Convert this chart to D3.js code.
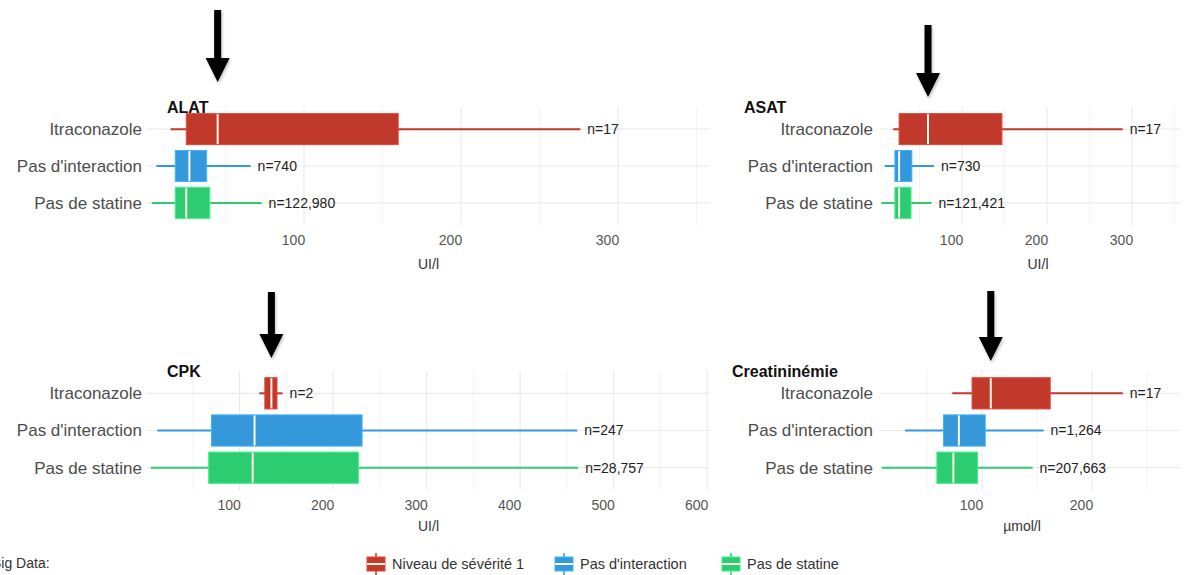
<!DOCTYPE html>
<html><head><meta charset="utf-8">
<script src="https://cdn.jsdelivr.net/npm/d3@7"></script>
<style>
html,body{margin:0;padding:0;background:#fff;}
svg{display:block;font-family:"Liberation Sans",Arial,Helvetica,sans-serif;}
</style></head>
<body><svg id="chart" width="1188" height="575"></svg>
<script>
// ---- data ----
const categories = ["Itraconazole", "Pas d'interaction", "Pas de statine"];
const panelTitles = ["ALAT", "ASAT", "CPK", "Creatininémie"];
const panelUnits = ["UI/l", "UI/l", "UI/l", "µmol/l"];
// [whisker low, Q1, median, Q3, whisker high] per category
const alatStats = [[15, 25, 45, 160, 276], [6, 18, 27, 38, 66], [3, 18, 25, 40, 73]];
const asatStats = [[19, 26, 60, 147, 289], [9, 21, 26, 41, 67], [5, 21, 26, 40, 64]];
const cpkStats = [[121, 127, 134, 140, 146], [12, 70, 116, 231, 461], [5, 67, 114, 227, 462]];
const creatStats = [[73, 91, 108, 162, 228], [30, 65, 79, 103, 156], [9, 59, 74, 96, 146]];
const alatN = ["n=17", "n=740", "n=122,980"];
const asatN = ["n=17", "n=730", "n=121,421"];
const cpkN = ["n=2", "n=247", "n=28,757"];
const creatN = ["n=17", "n=1,264", "n=207,663"];
const alatTicks = [100, 200, 300];
const asatTicks = [100, 200, 300];
const cpkTicks = [100, 200, 300, 400, 500, 600];
const creatTicks = [100, 200];
const legendLabels = ["Niveau de sévérité 1", "Pas d'interaction", "Pas de statine"];
const caption = "Big Data:";

// ---- styling / layout ----
const colors = ["#c0392b", "#3498db", "#2ecc71"];
const panels = [
  {stats: alatStats, n: alatN, ticks: alatTicks, domain: [0, 358.6], x0: 147, x1: 710, y0: 107, y1: 225,
   labelX: 142, titleX: 167, titleY: 113, tickY: 246, unitY: 269, unitDx: 0, arrow: [10, 82]},
  {stats: asatStats, n: asatN, ticks: asatTicks, domain: [3.5, 356.5], x0: 880, x1: 1180, y0: 107, y1: 225,
   labelX: 873, titleX: 744, titleY: 113, tickY: 246, unitY: 269, unitDx: 8, arrow: [25, 97]},
  {stats: cpkStats, n: cpkN, ticks: cpkTicks, domain: [1, 603], x0: 147, x1: 710, y0: 371, y1: 490,
   labelX: 142, titleX: 167, titleY: 377, tickY: 511, unitY: 531, unitDx: 0, arrow: [292, 358]},
  {stats: creatStats, n: creatN, ticks: creatTicks, domain: [7.3, 280], x0: 880, x1: 1180, y0: 371, y1: 490,
   labelX: 873, titleX: 732, titleY: 377, tickY: 511, unitY: 531, unitDx: -8, arrow: [291, 361]}
];

const svg = d3.select("#chart");
const defs = svg.append("defs");
const f = defs.append("filter").attr("id", "shadow").attr("x", "-50%").attr("y", "-20%").attr("width", "200%").attr("height", "150%");
f.append("feDropShadow").attr("dx", 1).attr("dy", 2).attr("stdDeviation", 1.5).attr("flood-color", "#000").attr("flood-opacity", 0.25);

panels.forEach((p, pi) => {
  const x = d3.scaleLinear().domain(p.domain).range([p.x0, p.x1]);
  const y = d3.scalePoint().domain(categories).range([p.y0, p.y1]).padding(0.6);
  const g = svg.append("g");
  const bh = y.step() * 0.84;

  // minor grid
  const minor = [];
  for (let i = 0; i < p.ticks.length + 2; i++) {
    const step = p.ticks[1] - p.ticks[0];
    const v = p.ticks[0] - step / 2 + i * step;
    if (v > p.domain[0] && v < p.domain[1]) minor.push(v);
  }
  g.selectAll(".minor").data(minor).join("line")
    .attr("x1", d => x(d)).attr("x2", d => x(d)).attr("y1", p.y0).attr("y2", p.y1)
    .attr("stroke", "#f3f3f3").attr("stroke-width", 1);
  g.selectAll(".major").data(p.ticks).join("line")
    .attr("x1", d => x(d)).attr("x2", d => x(d)).attr("y1", p.y0).attr("y2", p.y1)
    .attr("stroke", "#ebebeb").attr("stroke-width", 1.2);
  g.selectAll(".hgrid").data(categories).join("line")
    .attr("x1", p.x0).attr("x2", p.x1).attr("y1", d => y(d)).attr("y2", d => y(d))
    .attr("stroke", "#ebebeb").attr("stroke-width", 1.2);

  // axis tick labels
  const ax = g.append("g").attr("transform", `translate(0,${p.tickY - 11})`)
    .call(d3.axisBottom(x).tickValues(p.ticks).tickSize(0).tickPadding(0).tickFormat(d3.format("d")));
  ax.select(".domain").remove();
  ax.selectAll("text").attr("font-size", 14).attr("fill", "#555").attr("dx", -11)
    .attr("font-family", "Liberation Sans, Arial, sans-serif");

  // unit title
  g.append("text").attr("x", (p.x0 + p.x1) / 2 + p.unitDx).attr("y", p.unitY).attr("text-anchor", "middle")
    .attr("font-size", 14).attr("fill", "#333").text(panelUnits[pi]);

  // category labels
  g.selectAll(".cat").data(categories).join("text")
    .attr("x", p.labelX).attr("y", d => y(d)).attr("dy", "0.35em").attr("text-anchor", "end")
    .attr("font-size", 17).attr("fill", "#4d4d4d").text(d => d);

  // boxplots
  categories.forEach((c, ci) => {
    const s = p.stats[ci];
    const cy = y(c);
    const col = colors[ci];
    g.append("line").attr("x1", x(s[0])).attr("x2", x(s[4])).attr("y1", cy).attr("y2", cy)
      .attr("stroke", col).attr("stroke-width", 2);
    g.append("rect").attr("x", x(s[1])).attr("width", x(s[3]) - x(s[1]))
      .attr("y", cy - bh / 2).attr("height", bh)
      .attr("fill", col).attr("stroke", d3.color(col).brighter(0.5)).attr("stroke-width", 1);
    g.append("line").attr("x1", x(s[2])).attr("x2", x(s[2])).attr("y1", cy - bh / 2 + 0.5).attr("y2", cy + bh / 2 - 0.5)
      .attr("stroke", "#fff7e8").attr("stroke-width", 2);
    g.append("text").attr("x", x(s[4]) + 7).attr("y", cy).attr("dy", "0.35em")
      .attr("font-size", 14).attr("fill", "#222").text(p.n[ci]);
  });

  // panel title
  g.append("text").attr("x", p.titleX).attr("y", p.titleY).attr("font-size", 16).attr("font-weight", "bold")
    .attr("fill", "#111").text(panelTitles[pi]);

  // arrow pointing at Itraconazole median
  const ax0 = x(p.stats[0][2]);
  const [top, tip] = p.arrow;
  const headH = 24, headW = 12, shaftW = 3.5;
  const path = d3.path();
  path.moveTo(ax0 - shaftW, top);
  path.lineTo(ax0 + shaftW, top);
  path.lineTo(ax0 + shaftW, tip - headH);
  path.lineTo(ax0 + headW, tip - headH);
  path.lineTo(ax0, tip);
  path.lineTo(ax0 - headW, tip - headH);
  path.lineTo(ax0 - shaftW, tip - headH);
  path.closePath();
  svg.append("path").attr("d", path.toString()).attr("fill", "#000").attr("filter", "url(#shadow)");
});

// caption (cut at the left edge, as in the source)
svg.append("text").attr("x", -8).attr("y", 568).attr("font-size", 14).attr("fill", "#333").text(caption);

// legend
const legX = [367, 555, 722];
const leg = svg.append("g");
legendLabels.forEach((lab, i) => {
  const cx = legX[i] + 9, cy = 564;
  const lg = leg.append("g");
  lg.append("line").attr("x1", cx).attr("x2", cx).attr("y1", cy - 11).attr("y2", cy + 11)
    .attr("stroke", colors[i]).attr("stroke-width", 1.5);
  lg.append("rect").attr("x", cx - 9).attr("y", cy - 7).attr("width", 18).attr("height", 14)
    .attr("fill", colors[i]).attr("stroke", d3.color(colors[i]).brighter(0.5));
  lg.append("line").attr("x1", cx - 9).attr("x2", cx + 9).attr("y1", cy).attr("y2", cy)
    .attr("stroke", "#fff7e8").attr("stroke-width", 2);
  lg.append("text").attr("x", legX[i] + 25).attr("y", cy).attr("dy", "0.35em")
    .attr("font-size", 14.5).attr("fill", "#333").text(lab);
});
</script></body></html>
